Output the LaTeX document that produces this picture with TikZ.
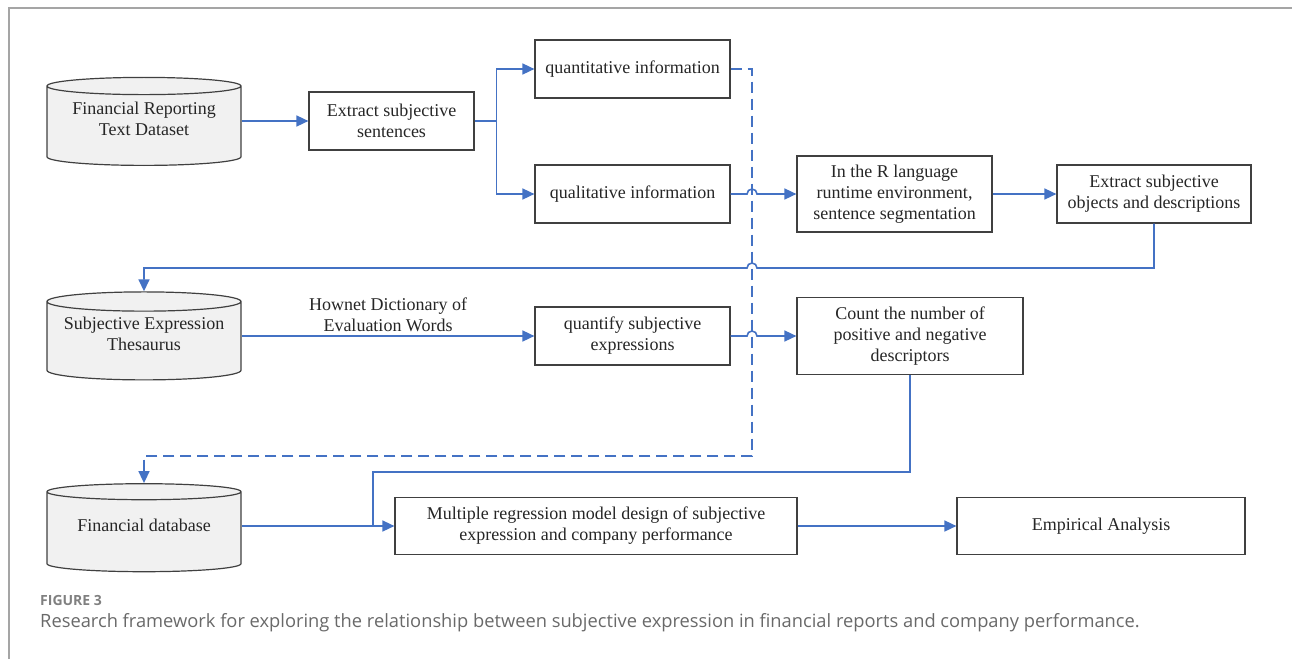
\documentclass[tikz,border=0pt]{standalone}
\usepackage{fontspec}
\setmainfont{Liberation Serif}
\newfontfamily\capfont{Open Sans}
\usepackage{xcolor}
\usepackage{tikz}
\usetikzlibrary{shapes.geometric, arrows.meta}
\definecolor{linecolor}{RGB}{68,114,196}
\definecolor{boxcolor}{RGB}{64,64,64}
\definecolor{fillcolor}{RGB}{241,241,241}
\definecolor{framecolor}{RGB}{165,165,165}
\definecolor{captioncolor}{RGB}{105,105,105}
% text of a store, lifted to the middle of its body
\newcommand{\storetext}[1]{\raisebox{5pt}[\height][\depth]{\begin{tabular}{@{}c@{}}#1\end{tabular}}}

\tikzset{
    box/.style={draw=boxcolor, line width=1.2pt, inner sep=0pt, align=center,
        font=\fontsize{18}{21}\selectfont, text=black!85},
    store/.style={cylinder, shape border rotate=90, aspect=0.12, draw=boxcolor,
        line width=1.2pt, fill=fillcolor, inner sep=0pt, align=center,
        minimum width=194pt, minimum height=88pt,
        font=\fontsize{18}{21}\selectfont, text=black!85},
    flow/.style={draw=linecolor, line width=1.6pt, -{Triangle[length=12pt,width=11pt]}},
    plain/.style={draw=linecolor, line width=1.6pt},
    dashflow/.style={flow, dash pattern=on 11pt off 6pt}
}

\begin{document}
\begin{tikzpicture}[x=1pt, y=1pt]
    \useasboundingbox (0,0) rectangle (1292,-659);
    % Frame
    \draw[framecolor, line width=1.2pt] (9,-659) -- (9,-8) -- (1292,-8);

    % Data sources
    \node[store] (textdata) at (144,-126) {\storetext{Financial Reporting\\Text Dataset}};
    \node[store] (thesaurus) at (144,-341) {\storetext{Subjective Expression\\Thesaurus}};
    \node[store] (findb) at (144,-532) {\storetext{Financial database}};

    % Processing steps
    \node[box, minimum width=165pt, minimum height=58pt] (extract) at (391.5,-121) {Extract subjective\\sentences};
    \node[box, minimum width=195pt, minimum height=58pt] (quant) at (632.5,-69) {quantitative information};
    \node[box, minimum width=195pt, minimum height=58pt] (qual) at (632.5,-194) {qualitative information};
    \node[box, minimum width=195pt, minimum height=76pt] (rlang) at (894.5,-194) {In the R language\\runtime environment,\\sentence segmentation};
    \node[box, minimum width=194pt, minimum height=58pt] (objects) at (1154,-194) {Extract subjective\\objects and descriptions};
    \node[box, minimum width=195pt, minimum height=58pt] (quantify) at (632.5,-336) {quantify subjective\\expressions};
    \node[box, minimum width=226pt, minimum height=77pt] (count) at (910,-336) {Count the number of\\positive and negative\\descriptors};
    \node[box, minimum width=402pt, minimum height=57pt] (regress) at (596,-526) {Multiple regression model design of subjective\\expression and company performance};
    \node[box, minimum width=288pt, minimum height=57pt] (empirical) at (1101,-526) {Empirical Analysis};

    % Helper coordinates
    \coordinate (dashx) at (752,0);
    \coordinate (fbrow) at (0,-268);
    \coordinate (dashrow) at (0,-456);
    \coordinate (merge) at (373,-526);

    % Connectors
    \draw[flow] (textdata.east |- extract.west) -- (extract.west);
    \draw[flow] (extract.east) -- ++(22,0) |- (quant.west);
    \draw[flow] (extract.east) -- ++(22,0) |- (qual.west);
    \draw[dashflow] (quant.east) -| (dashx |- dashrow) -| (findb.north);
    \draw[flow] (qual.east) -- ([xshift=-5pt]dashx |- qual.east) arc (180:0:5) -- (rlang.west);
    \draw[flow] (rlang.east) -- (objects.west);
    \draw[flow] (objects.south) |- ([xshift=5pt]dashx |- fbrow) arc (0:180:5) -| (thesaurus.north);
    \draw[flow] (thesaurus.east |- quantify.west) -- node[midway, above, font=\fontsize{18}{21}\selectfont, text=black!85, align=center] {Hownet Dictionary of\\Evaluation Words} (quantify.west);
    \draw[flow] (quantify.east) -- ([xshift=-5pt]dashx |- quantify.east) arc (180:0:5) -- (count.west);
    \draw[plain] (count.south) |- (merge |- 0,-472) -- (merge);
    \draw[flow] (findb.east |- regress.west) -- (regress.west);
    \draw[flow] (regress.east) -- (empirical.west);

    % Caption
    \node[anchor=base west, inner sep=0pt, font=\capfont\bfseries\fontsize{14}{16}\selectfont, text=captioncolor!85!white] (figlabel) at (40,-605) {FIGURE 3};
    \node[anchor=base west, inner sep=0pt, font=\capfont\fontsize{18.3}{20}\selectfont, text=captioncolor] (caption) at (40,-627) {Research framework for exploring the relationship between subjective expression in financial reports and company performance.};
\end{tikzpicture}
\end{document}
